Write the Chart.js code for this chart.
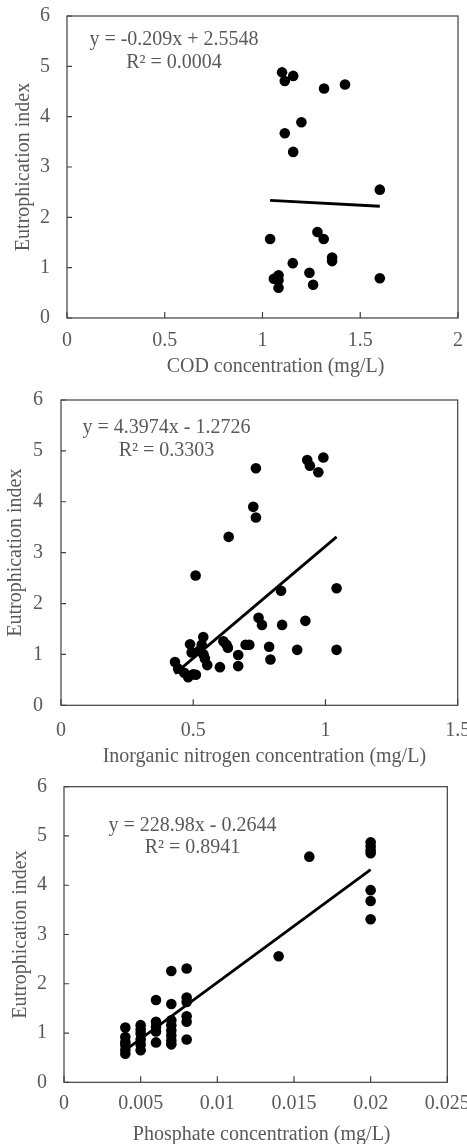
<!DOCTYPE html>
<html><head><meta charset="utf-8">
<script src="https://cdn.jsdelivr.net/npm/chart.js@4.4.1/dist/chart.umd.min.js"></script>
<style>
html,body{margin:0;padding:0;background:#fff;}
#wrap{position:relative;width:467px;height:1144px;overflow:hidden;background:#fff;}
canvas{position:absolute;left:0;}
</style></head><body>
<div id="wrap">
<canvas id="c1" style="top:0px;width:467px;height:380px" width="467" height="380"></canvas>
<canvas id="c2" style="top:380px;width:467px;height:390px" width="467" height="390"></canvas>
<canvas id="c3" style="top:770px;width:467px;height:374px" width="467" height="374"></canvas>
</div>
<script>
// ---------- data ----------
const codX = [1.100,1.114,1.157,1.315,1.422,1.199,1.114,1.157,1.600,1.039,1.281,1.313,1.356,1.356,1.155,1.240,1.259,1.600,1.058,1.082,1.082,1.082];
const codY = [4.88,4.71,4.81,4.56,4.64,3.89,3.67,3.30,2.55,1.57,1.71,1.57,1.20,1.13,1.09,0.90,0.66,0.79,0.78,0.85,0.75,0.60];
const codTrendX = [1.039, 1.600];
const codTrendY = [2.338, 2.220];

const ninX = [0.737,0.931,0.941,0.973,0.992,0.727,0.737,0.634,0.509,1.042,0.832,0.747,0.760,0.836,0.924,1.042,0.893,0.787,0.792,0.698,0.712,0.670,0.670,0.601,0.614,0.626,0.631,0.538,0.532,0.523,0.539,0.544,0.553,0.488,0.494,0.431,0.443,0.466,0.481,0.510,0.500];
const ninY = [4.66,4.82,4.71,4.58,4.87,3.90,3.69,3.31,2.55,2.30,2.25,1.72,1.58,1.58,1.66,1.09,1.09,1.15,0.90,1.19,1.19,0.99,0.77,0.75,1.26,1.19,1.13,1.34,1.19,1.07,1.00,0.92,0.79,1.20,1.04,0.85,0.72,0.64,0.55,0.60,0.61];
const ninTrendX = [0.431, 1.042];
const ninTrendY = [0.623, 3.309];

const phoX = [0.004,0.004,0.004,0.004,0.004,0.004,
              0.005,0.005,0.005,0.005,0.005,0.005,
              0.006,0.006,0.006,0.006,0.006,
              0.007,0.007,0.007,0.007,0.007,0.007,0.007,0.007,
              0.008,0.008,0.008,0.008,0.008,0.008,
              0.014,0.016,
              0.020,0.020,0.020,0.020,0.020,0.020,0.020];
const phoY = [1.11,0.92,0.82,0.76,0.66,0.58,
              1.16,1.07,0.99,0.87,0.76,0.65,
              1.67,1.23,1.13,1.03,0.81,
              2.26,1.59,1.26,1.16,1.05,0.95,0.85,0.77,
              2.31,1.72,1.63,1.34,1.23,0.87,
              2.56,4.58,
              4.87,4.79,4.71,4.65,3.90,3.68,3.31];
const phoTrendX = [0.004, 0.020];
const phoTrendY = [0.651, 4.315];

const yTicks = [0,1,2,3,4,5,6];
const codTicks = [0,0.5,1,1.5,2];
const ninTicks = [0,0.5,1,1.5];
const phoTicks = [0,0.005,0.01,0.015,0.02,0.025];

const yTitle = 'Eutrophication index';
const codTitle = 'COD concentration (mg/L)';
const ninTitle = 'Inorganic nitrogen concentration (mg/L)';
const phoTitle = 'Phosphate concentration (mg/L)';
const codEq = ['y = -0.209x + 2.5548', 'R\u00B2 = 0.0004'];
const ninEq = ['y = 4.3974x - 1.2726', 'R\u00B2 = 0.3303'];
const phoEq = ['y = 228.98x - 0.2644', 'R\u00B2 = 0.8941'];

// ---------- style ----------
const FAM = '"Liberation Serif","Times New Roman",serif';
const TXT = '#595959';
const AX = '#404040';

const framePlugin = {
  id: 'frame',
  afterDatasetsDraw(chart, args, o) {
    const {ctx, chartArea: a} = chart;
    ctx.save();
    ctx.strokeStyle = AX;
    ctx.lineWidth = 1.2;
    ctx.strokeRect(a.left, a.top, a.right - a.left, a.bottom - a.top);
    ctx.beginPath();
    const xs = chart.scales.x, ys = chart.scales.y;
    xs.ticks.forEach(t => { const p = xs.getPixelForValue(t.value); ctx.moveTo(p, a.bottom); ctx.lineTo(p, a.bottom - 6); });
    ys.ticks.forEach(t => { const p = ys.getPixelForValue(t.value); ctx.moveTo(a.left, p); ctx.lineTo(a.left + 5, p); });
    ctx.stroke();
    // equation
    ctx.fillStyle = TXT;
    ctx.font = o.eqSize + 'px ' + FAM;
    ctx.textAlign = 'center';
    ctx.textBaseline = 'middle';
    ctx.fillText(o.eq[0], o.eqX, o.eqY1);
    ctx.fillText(o.eq[1], o.eqX, o.eqY2);
    // x title
    ctx.font = o.titleSize + 'px ' + FAM;
    ctx.fillText(o.xTitle, (a.left + a.right) / 2 + o.titleDx, o.titleY);
    ctx.restore();
  }
};

function makeChart(id, cfg) {
  const pts = cfg.xs.map((x, i) => ({x: x, y: cfg.ys[i]}));
  const tr = cfg.tx.map((x, i) => ({x: x, y: cfg.ty[i]}));
  return new Chart(document.getElementById(id), {
    type: 'scatter',
    data: {datasets: [
      {data: tr, showLine: true, borderColor: '#000', borderWidth: 2.8, pointRadius: 0, fill: false, order: 2},
      {data: pts, pointRadius: 5.3, pointBackgroundColor: '#000', pointBorderWidth: 0, backgroundColor: '#000', order: 1}
    ]},
    options: {
      responsive: false, animation: false, devicePixelRatio: 1,
      layout: {padding: cfg.pad},
      plugins: {legend: {display: false}, tooltip: {enabled: false}, frame: cfg.frame},
      scales: {
        x: {
          type: 'linear', min: cfg.xt[0], max: cfg.xt[cfg.xt.length - 1],
          afterBuildTicks: s => { s.ticks = cfg.xt.map(v => ({value: v})); },
          afterFit: s => { s.height = cfg.xH; s.paddingLeft = 0; s.paddingRight = 0; },
          grid: {display: false, drawTicks: false}, border: {display: false},
          ticks: {autoSkip: false, maxRotation: 0, padding: cfg.xPad, color: TXT,
                  font: {family: FAM, size: cfg.fs, lineHeight: 1}, callback: v => String(v)}
        },
        y: {
          type: 'linear', min: 0, max: 6,
          afterBuildTicks: s => { s.ticks = yTicks.map(v => ({value: v})); },
          afterFit: s => { s.width = cfg.yW; s.paddingTop = 0; s.paddingBottom = 0; },
          grid: {display: false, drawTicks: false}, border: {display: false},
          ticks: {padding: cfg.yPad, color: TXT, font: {family: FAM, size: cfg.fs, lineHeight: 1}, callback: v => String(v)},
          title: {display: true, text: yTitle, color: TXT, font: {family: FAM, size: cfg.fs, lineHeight: 1}, padding: {top: cfg.ytPad, bottom: 0}}
        }
      }
    },
    plugins: [framePlugin]
  });
}

makeChart('c1', {
  xs: codX, ys: codY, tx: codTrendX, ty: codTrendY, xt: codTicks,
  pad: {top: 16, right: 9, bottom: 0, left: 0}, xH: 62, yW: 67, xPad: 13, yPad: 17, ytPad: 14, fs: 20,
  frame: {eq: codEq, eqX: 174, eqY1: 40, eqY2: 63, eqSize: 20, xTitle: codTitle, titleDx: 13, titleY: 367, titleSize: 20}
});
makeChart('c2', {
  xs: ninX, ys: ninY, tx: ninTrendX, ty: ninTrendY, xt: ninTicks,
  pad: {top: 20, right: 9.3, bottom: 0, left: 0}, xH: 64.7, yW: 61, xPad: 15, yPad: 18, ytPad: 5.5, fs: 20,
  frame: {eq: ninEq, eqX: 166.5, eqY1: 48, eqY2: 70.7, eqSize: 20, xTitle: ninTitle, titleDx: 5, titleY: 377, titleSize: 20}
});
makeChart('c3', {
  xs: phoX, ys: phoY, tx: phoTrendX, ty: phoTrendY, xt: phoTicks,
  pad: {top: 16.7, right: 19.7, bottom: 0, left: 0}, xH: 61.7, yW: 64, xPad: 11.5, yPad: 17, ytPad: 10.5, fs: 20,
  frame: {eq: phoEq, eqX: 192.5, eqY1: 56, eqY2: 78, eqSize: 20, xTitle: phoTitle, titleDx: 6, titleY: 365, titleSize: 20}
});
</script>
</body></html>
